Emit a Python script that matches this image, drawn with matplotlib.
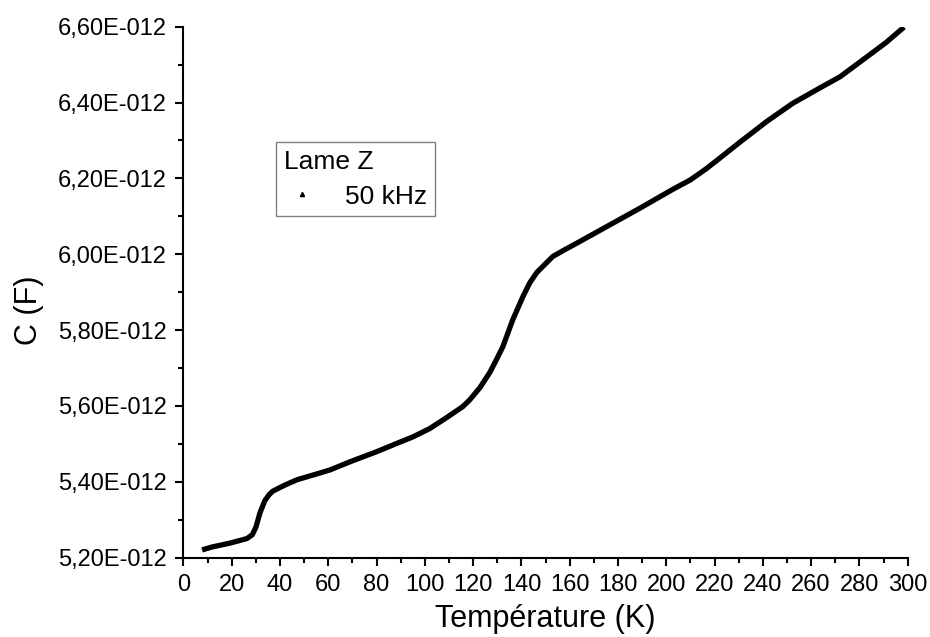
import matplotlib
matplotlib.use("Agg")
import matplotlib.pyplot as plt
from matplotlib.ticker import FixedLocator, FuncFormatter
from matplotlib.lines import Line2D

plt.rcParams['font.family'] = ['Liberation Sans', 'DejaVu Sans']

temperature = [7.7, 12, 19.3, 26.3, 28.5, 30, 31.7, 33.7, 35.5, 37, 42, 47, 55, 60.7, 70, 80,
               88, 95, 102, 109, 115.7, 118.6, 122.8, 126.8, 129.5, 132.3, 136.4, 140.6,
               143.5, 146.4, 150, 153, 158, 163.2, 175.4, 189, 202.7, 210, 216.7, 223.5,
               230.4, 241.6, 252.4, 263.5, 272, 283, 291, 298.5]
capacitance_pF = [5.220, 5.228, 5.238, 5.250, 5.260, 5.280, 5.318, 5.350, 5.366, 5.375,
                  5.391, 5.405, 5.420, 5.431, 5.455, 5.479, 5.500, 5.518, 5.540, 5.569,
                  5.598, 5.616, 5.648, 5.687, 5.720, 5.756, 5.827, 5.888, 5.925, 5.952,
                  5.975, 5.994, 6.012, 6.030, 6.073, 6.121, 6.171, 6.196, 6.226, 6.260,
                  6.295, 6.350, 6.398, 6.438, 6.468, 6.520, 6.558, 6.599]
capacitance = [c * 1e-12 for c in capacitance_pF]

x_major = [0, 20, 40, 60, 80, 100, 120, 140, 160, 180, 200, 220, 240, 260, 280, 300]
x_minor = [10, 30, 50, 70, 90, 110, 130, 150, 170, 190, 210, 230, 250, 270, 290]
y_major_pF = [5.2, 5.4, 5.6, 5.8, 6.0, 6.2, 6.4, 6.6]
y_minor_pF = [5.3, 5.5, 5.7, 5.9, 6.1, 6.3, 6.5]

series_label = "50 kHz"
legend_title = "Lame Z"

fig = plt.figure(figsize=(9.3, 6.37), dpi=100)
ax = fig.add_axes([0.1973, 0.1248, 0.7787, 0.8333])

ax.plot(temperature, capacitance, color='black', lw=3.8, solid_capstyle='butt',
        solid_joinstyle='round')

ax.set_xlim(0, 300)
ax.set_ylim(5.2e-12, 6.6e-12)
ax.xaxis.set_major_locator(FixedLocator(x_major))
ax.xaxis.set_minor_locator(FixedLocator(x_minor))
ax.yaxis.set_major_locator(FixedLocator([v * 1e-12 for v in y_major_pF]))
ax.yaxis.set_minor_locator(FixedLocator([v * 1e-12 for v in y_minor_pF]))
ax.yaxis.set_major_formatter(FuncFormatter(
    lambda v, p: f"{v / 1e-12:.2f}".replace('.', ',') + "E-012"))

for s in ['top', 'right']:
    ax.spines[s].set_visible(False)
for s in ['left', 'bottom']:
    ax.spines[s].set_linewidth(1.5)

ax.tick_params(which='major', direction='out', length=6, width=1.5, labelsize=17, pad=6,
               colors='black')
ax.tick_params(which='minor', direction='out', length=3.5, width=1.5)

ax.set_xlabel("Température (K)", fontsize=22)
ax.set_ylabel("C (F)", fontsize=22, va='center')
ax.yaxis.set_label_coords(-0.213, 0.466)
ax.xaxis.set_label_coords(0.5, -0.088)

handle = Line2D([], [], color='black', marker='^', markersize=3, linestyle='None')
leg = fig.legend([handle], [series_label], title=legend_title, loc='upper left',
                 bbox_to_anchor=(0.2968, 0.777), bbox_transform=fig.transFigure,
                 borderaxespad=0, fontsize=19, title_fontsize=19, fancybox=False,
                 edgecolor='#808080', framealpha=1, alignment='left',
                 handlelength=1.4, handletextpad=0.9, borderpad=0.3, labelspacing=0.4)
leg.get_frame().set_linewidth(1.0)

fig.savefig("out.png", dpi=100)
